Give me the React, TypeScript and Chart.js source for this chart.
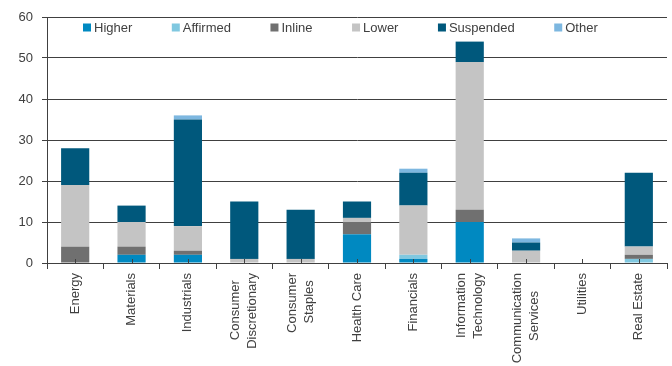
import React, { useEffect, useRef } from "react";
import { Chart, registerables } from "chart.js";
Chart.register(...registerables);

// Categories (trailing spaces centre the shorter line of two-line labels)
const categories: string[][] = [
  ["Energy"],
  ["Materials"],
  ["Industrials"],
  ["Consumer  ", "Discretionary"],
  ["Consumer", "Staples  "],
  ["Health Care"],
  ["Financials"],
  ["Information", "Technology"],
  ["Communication", "Services     "],
  ["Utilities"],
  ["Real Estate"],
];

const seriesNames = ["Higher", "Affirmed", "Inline", "Lower", "Suspended", "Other"];
const higher = [0, 2, 2, 0, 0, 7, 1, 10, 0, 0, 0];
const affirmed = [0, 0, 0, 0, 0, 0, 1, 0, 0, 0, 1];
const inline = [4, 2, 1, 0, 0, 3, 0, 3, 0, 0, 1];
const lower = [15, 6, 6, 1, 1, 1, 12, 36, 3, 0, 2];
const suspended = [9, 4, 26, 14, 12, 4, 8, 5, 2, 0, 18];
const other = [0, 0, 1, 0, 0, 0, 1, 0, 1, 0, 0];

const yMin = 0;
const yMax = 60;
const yStep = 10;

const colors = ["#0089c1", "#80c8e0", "#707070", "#c4c4c4", "#00587c", "#7db7e0"];
const axisColor = "#404040";
const textColor = "#404040";
const fontFamily = "'Liberation Sans', Arial, sans-serif";
const twoLineSpacing = 17;

const centerTicks = {
  id: "centerTicks",
  afterDatasetsDraw(chart: any) {
    const x = chart.scales.x;
    const ctx = chart.ctx;
    const bottom = chart.chartArea.bottom;
    ctx.save();
    ctx.strokeStyle = axisColor;
    ctx.lineWidth = 1;
    for (let i = 0; i < categories.length; i++) {
      const px = Math.round(x.getPixelForValue(i)) + 0.5;
      ctx.beginPath();
      ctx.moveTo(px, bottom);
      ctx.lineTo(px, bottom - 4);
      ctx.stroke();
    }
    ctx.restore();
  },
};

const customLegend = {
  id: "customLegend",
  afterDraw(chart: any) {
    const ctx = chart.ctx;
    const area = chart.chartArea;
    ctx.save();
    ctx.font = `13px ${fontFamily}`;
    ctx.textBaseline = "alphabetic";
    ctx.textAlign = "left";
    let x = area.left + 36;
    chart.data.datasets.forEach((ds: any) => {
      ctx.fillStyle = ds.backgroundColor;
      ctx.fillRect(x, 23.5, 8, 8);
      ctx.fillStyle = textColor;
      ctx.fillText(ds.label, x + 11, 32);
      x += 11 + ctx.measureText(ds.label).width + 39.5;
    });
    ctx.restore();
  },
};

export default function App() {
  const ref = useRef<HTMLCanvasElement>(null);
  useEffect(() => {
    if (!ref.current) return;
    const values = [higher, affirmed, inline, lower, suspended, other];
    // single-line labels get an empty leading line so all labels share one offset
    const tickLabels = categories.map((c) => (c.length > 1 ? c : ["", c[0]]));
    const chart = new Chart(ref.current, {
      type: "bar",
      data: {
        labels: tickLabels as any,
        datasets: seriesNames.map((name, i) => ({
          label: name,
          data: values[i],
          backgroundColor: colors[i],
          borderWidth: 0,
          barPercentage: 0.5,
          categoryPercentage: 1,
        })),
      },
      options: {
        animation: false,
        responsive: true,
        maintainAspectRatio: false,
        layout: { padding: { top: 17, right: 5, left: 0, bottom: 0 } },
        plugins: {
          legend: { display: false },
          tooltip: { enabled: false },
        },
        scales: {
          x: {
            stacked: true,
            afterFit: (s: any) => {
              s.height = 103;
            },
            grid: {
              drawOnChartArea: false,
              drawTicks: true,
              tickLength: 6,
              color: axisColor,
              offset: true,
            },
            border: { color: axisColor, width: 1 },
            ticks: {
              minRotation: 90,
              maxRotation: 90,
              autoSkip: false,
              padding: 4,
              labelOffset: -twoLineSpacing / 2,
              color: textColor,
              font: (ctx: any) => {
                const lbl = categories[ctx.index] || [];
                return {
                  family: fontFamily,
                  size: 13,
                  lineHeight: (lbl.length > 1 ? twoLineSpacing : twoLineSpacing / 2) + "px",
                };
              },
            },
          },
          y: {
            stacked: true,
            min: yMin,
            max: yMax,
            afterFit: (s: any) => {
              s.width = 47;
            },
            grid: {
              color: axisColor,
              tickLength: 5,
              drawTicks: true,
            },
            border: { color: axisColor, width: 1 },
            ticks: {
              stepSize: yStep,
              padding: 9,
              color: textColor,
              font: { family: fontFamily, size: 13 },
            },
          },
        },
      },
      plugins: [centerTicks, customLegend],
    });
    return () => chart.destroy();
  }, []);
  return (
    <div style={{ position: "fixed", left: 0, top: 0, width: 672, height: 366, background: "#fff" }}>
      <canvas ref={ref} />
    </div>
  );
}
